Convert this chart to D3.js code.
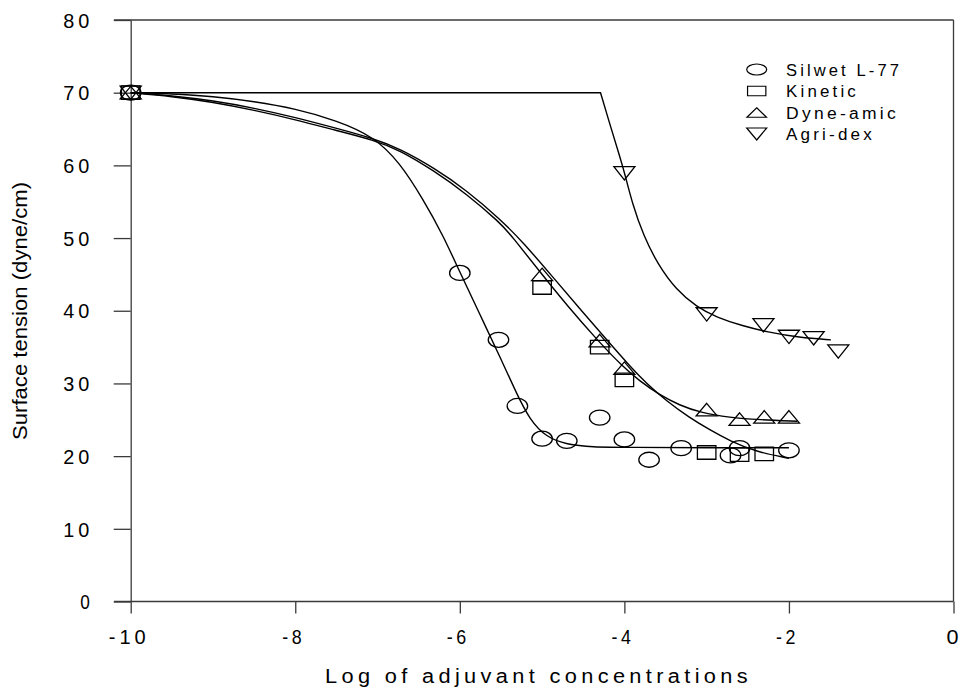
<!DOCTYPE html>
<html>
<head>
<meta charset="utf-8">
<script src="https://cdn.jsdelivr.net/npm/d3@7"></script>
<style>
  body { margin: 0; background: #fff; }
  text { font-family: "Liberation Sans", Arial, sans-serif; fill: #000; }
</style>
</head>
<body>
<svg id="chart" width="961" height="692"></svg>
<script>
// series names and legend order
const seriesNames = ["Silwet L-77", "Kinetic", "Dyne-amic", "Agri-dex"];
const seriesSymbols = ["circle", "square", "triangle", "down"];

// measured points [log conc, surface tension]
const silwetPoints = [[-10, 70], [-6.0, 45.2], [-5.53, 36.0], [-5.30, 26.9], [-5.0, 22.4], [-4.70, 22.1],
  [-4.30, 25.3], [-4.0, 22.3], [-3.70, 19.5], [-3.31, 21.1], [-2.71, 20.1], [-2.60, 21.1], [-2.0, 20.8]];
const kineticPoints = [[-10, 70], [-5.0, 43.2], [-4.30, 35.0], [-4.0, 30.5], [-3.0, 20.5], [-2.60, 20.2], [-2.30, 20.3]];
const dyneamicPoints = [[-10, 70], [-5.0, 45.0], [-4.30, 35.9], [-4.0, 32.1], [-3.0, 26.4], [-2.60, 25.1], [-2.30, 25.4], [-2.0, 25.4]];
const agridexPoints = [[-10, 70], [-4.0, 58.9], [-3.0, 39.5], [-2.31, 38.0], [-2.0, 36.4], [-1.70, 36.2], [-1.40, 34.4]];

// fitted curves
const silwetCurve = [[-10, 70], [-10, 70], [-9.5, 69.85], [-9, 69.5], [-8.5, 68.8], [-8, 67.8], [-7.5, 66.2], [-7.05, 64.0],
  [-6.73, 60.4], [-6.45, 55.4], [-6.2, 50.3], [-6.0, 45.3], [-5.76, 39.6], [-5.51, 33.6], [-5.31, 28.6],
  [-5.15, 25.0], [-4.95, 22.6], [-4.7, 21.6], [-4.4, 21.25], [-3.94, 21.2], [-3.0, 21.15], [-2.0, 21.15], [-2.0, 21.15]];
const kineticCurve = [[-10, 70], [-10, 70], [-9.5, 69.6], [-9, 68.9], [-8.5, 67.9], [-8, 66.6], [-7.5, 65.1], [-7.05, 63.7],
  [-6.73, 62.3], [-6.32, 59.7], [-5.92, 56.6], [-5.51, 52.6], [-5.23, 49.4], [-4.89, 44.9], [-4.55, 40.4], [-4.20, 35.8],
  [-3.92, 32.2], [-3.73, 30.0], [-3.49, 27.6], [-3.21, 25.3], [-2.96, 23.6], [-2.72, 22.1], [-2.40, 20.6], [-2.0, 19.7], [-2.0, 19.7]];
const dyneamicCurve = [[-10, 70], [-10, 70], [-9.5, 69.5], [-9, 68.7], [-8.5, 67.6], [-8, 66.3], [-7.5, 64.8], [-7.05, 63.5],
  [-6.73, 62.1], [-6.32, 59.3], [-5.92, 56.1], [-5.51, 52.1], [-5.37, 50.3], [-5.03, 45.4], [-4.68, 40.5], [-4.34, 36.1],
  [-4.02, 32.3], [-3.81, 30.3], [-3.57, 28.4], [-3.33, 27.0], [-3.08, 26.0], [-2.72, 25.3], [-2.36, 25.0], [-1.9, 24.8], [-1.9, 24.8]];
const agridexCurve = [[-10, 70], [-10, 70], [-4.29, 70], [-4.29, 70], [-4.29, 70], [-4.18, 65.8], [-4.08, 62.1], [-4.0, 59.1],
  [-3.90, 54.6], [-3.77, 50.4], [-3.59, 46.3], [-3.37, 42.9], [-3.12, 40.5], [-2.88, 39.1], [-2.56, 37.9],
  [-2.27, 37.1], [-1.87, 36.3], [-1.49, 36.0], [-1.49, 36.0]];

const xTicks = [-10, -8, -6, -4, -2, 0];
const yTicks = [0, 10, 20, 30, 40, 50, 60, 70, 80];

const svg = d3.select("#chart");
const x = d3.scaleLinear().domain([-10, 0]).range([130.7, 953.5]);
const y = d3.scaleLinear().domain([0, 80]).range([601.5, 20]);
const axisColor = "#3a3a3a";

// frame top and right
svg.append("line").attr("x1", 114).attr("x2", x(0)).attr("y1", y(80)).attr("y2", y(80))
  .attr("stroke", axisColor).attr("stroke-width", 1.3);
svg.append("line").attr("x1", x(0)).attr("x2", x(0)).attr("y1", y(80)).attr("y2", y(0))
  .attr("stroke", axisColor).attr("stroke-width", 1.3);

// y axis
const yAxis = svg.append("g").attr("transform", `translate(${x(-10)},0)`)
  .call(d3.axisLeft(y).tickValues(yTicks).tickFormat(d => String(d)).tickSize(17).tickSizeOuter(0));
yAxis.select(".domain").attr("stroke", axisColor).attr("stroke-width", 1.3);
yAxis.selectAll(".tick line").attr("stroke", axisColor).attr("stroke-width", 1.3);
yAxis.selectAll(".tick text")
  .attr("x", -37.5).attr("dy", "0.36em")
  .attr("font-size", 20).attr("font-family", null).attr("letter-spacing", 4)
  .attr("textLength", d => d === 0 ? 13 : 30).attr("lengthAdjust", "spacingAndGlyphs");

// x axis
const xAxis = svg.append("g").attr("transform", `translate(0,${y(0)})`)
  .call(d3.axisBottom(x).tickValues(xTicks).tickFormat(d => String(d)).tickSize(12).tickSizeOuter(0));
xAxis.select(".domain").attr("d", `M${114},0H${x(0)}`).attr("stroke", axisColor).attr("stroke-width", 1.3);
xAxis.selectAll(".tick line").attr("stroke", axisColor).attr("stroke-width", 1.3);
xAxis.selectAll(".tick text")
  .attr("y", 42.8).attr("dy", 0).attr("dx", d => d < 0 ? -2 : -1.5)
  .attr("font-size", 20).attr("font-family", null).attr("letter-spacing", d => d === 0 ? 0 : 4)
  .attr("textLength", d => d === -10 ? 41 : (d === 0 ? 12 : 23)).attr("lengthAdjust", "spacingAndGlyphs");

// axis titles
svg.append("text").attr("x", 325).attr("y", 683)
  .attr("font-size", 20).attr("letter-spacing", 4).attr("textLength", 427).attr("lengthAdjust", "spacingAndGlyphs")
  .text("Log of adjuvant concentrations");
svg.append("text").attr("transform", "translate(26.5,311) rotate(-90)")
  .attr("text-anchor", "middle").attr("font-size", 20).attr("textLength", 258).attr("lengthAdjust", "spacingAndGlyphs")
  .text("Surface tension (dyne/cm)");

// fitted curves (end and corner points repeated so the spline passes through them)
const line = d3.line().x(d => x(d[0])).y(d => y(d[1])).curve(d3.curveBasis);
[silwetCurve, kineticCurve, dyneamicCurve, agridexCurve].forEach(c => {
  svg.append("path").attr("d", line(c)).attr("fill", "none")
    .attr("stroke", "#000").attr("stroke-width", 1.4);
});

// marker shapes, w and h are full width / height
function markerPath(type, w, h) {
  const a = w / 2, b = h / 2;
  if (type === "circle") return `M${-a},0A${a},${b} 0 1,0 ${a},0A${a},${b} 0 1,0 ${-a},0Z`;
  if (type === "square") return `M${-a},${-b}H${a}V${b}H${-a}Z`;
  if (type === "triangle") return `M0,${-b}L${a},${b}H${-a}Z`;
  return `M0,${b}L${a},${-b}H${-a}Z`;
}
const markerSize = { circle: [20.5, 15], square: [18.5, 13.5], triangle: [21, 12.5], down: [21, 13.3] };

const allPoints = [silwetPoints, kineticPoints, dyneamicPoints, agridexPoints];
allPoints.forEach((pts, i) => {
  const t = seriesSymbols[i];
  svg.append("g").selectAll("path").data(pts).join("path")
    .attr("transform", d => `translate(${x(d[0])},${y(d[1])})`)
    .attr("d", markerPath(t, markerSize[t][0], markerSize[t][1]))
    .attr("fill", "none").attr("stroke", "#000").attr("stroke-width", 1.3);
});

// legend
const legendSize = { circle: [20, 11], square: [18.3, 9.5], triangle: [19.5, 9.5], down: [20, 12] };
const legendWidths = [116, 73, 113, 89];
const legend = svg.append("g");
seriesNames.forEach((name, i) => {
  const t = seriesSymbols[i];
  const cy = 69.5 + i * 21.5;
  legend.append("path").attr("transform", `translate(756.7,${cy})`)
    .attr("d", markerPath(t, legendSize[t][0], legendSize[t][1]))
    .attr("fill", "none").attr("stroke", "#000").attr("stroke-width", 1.2);
  legend.append("text").attr("x", 786).attr("y", cy + 6.3)
    .attr("font-size", 16).attr("letter-spacing", 3).attr("textLength", legendWidths[i]).attr("lengthAdjust", "spacingAndGlyphs")
    .text(name);
});
</script>
</body>
</html>
